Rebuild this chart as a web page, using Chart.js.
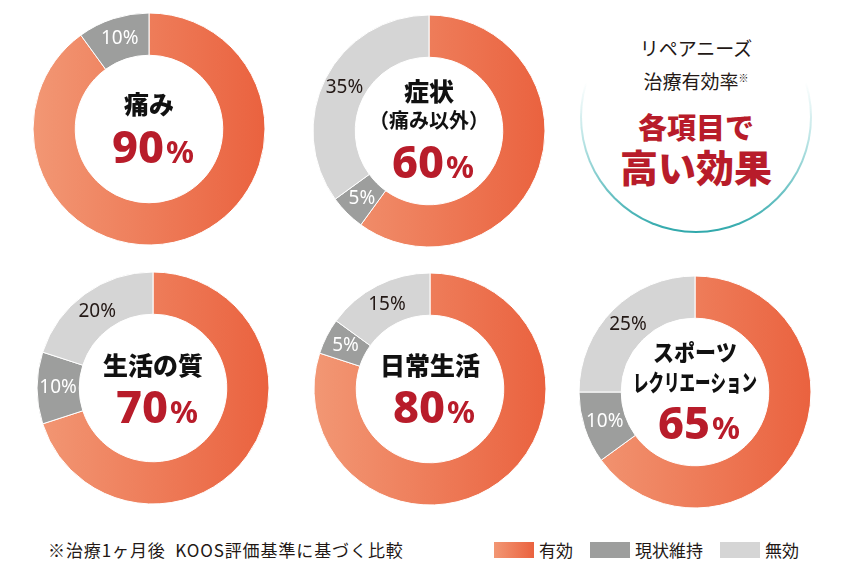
<!DOCTYPE html>
<html><head><meta charset="utf-8">
<script src="https://cdn.jsdelivr.net/npm/chart.js@4.4.0/dist/chart.umd.min.js"></script>
<style>
html,body{margin:0;padding:0;background:#fff;}
#wrap{position:relative;width:848px;height:571px;overflow:hidden;font-family:"Noto Sans CJK JP","Noto Sans",sans-serif;color:#231815;}
canvas.d{position:absolute;}
#badge{position:absolute;left:580px;top:1px;width:232px;height:232px;border-radius:50%;
 background:linear-gradient(to bottom,rgba(60,178,180,0) 35%,rgba(60,178,180,0.35) 60%,#2fa8ab 100%);filter:blur(0.4px);}
#badgeIn{position:absolute;left:2px;top:2px;right:2px;bottom:2px;border-radius:50%;background:#fff;}
.bl{position:absolute;left:580px;width:232px;text-align:center;white-space:nowrap;line-height:1;}
.red{color:#B81C2A;font-weight:900;}
#note{position:absolute;left:48px;top:541px;font-size:17px;line-height:18px;white-space:pre;letter-spacing:0.9px;}
#legend{position:absolute;left:494px;top:541px;display:flex;align-items:center;font-size:17px;line-height:18px;}
#legend .it{display:flex;align-items:center;margin-right:17px;}
#legend .bx{width:40px;height:16px;margin-right:5px;}
</style></head><body>
<div id="wrap">
 <div id="badge"><div id="badgeIn"></div></div>
 <div id="note"></div>
 <div id="legend"></div>
</div>
<script>
// ---- data ----
const seriesNames = ['有効', '現状維持', '無効'];
const chartTitles = [['痛み'], ['症状', '（痛み以外）'], ['生活の質'], ['日常生活'], ['スポーツ', 'レクリエーション']];
const effective   = [90, 60, 70, 80, 65];
const maintained  = [10, 5, 10, 5, 10];
const ineffective = [0, 35, 20, 15, 25];
const footnote = '※治療1ヶ月後  KOOS評価基準に基づく比較';
const badgeTop = ['リペアニーズ', '治療有効率'];
const badgeMark = '※';
const badgeRed = ['各項目で', '高い効果'];

// ---- layout / style ----
const centers = [[149,129],[429,130.5],[152.5,388],[429.5,389],[694.5,392]];
const titleOffsets = [[-25],[-40,-11],[-23],[-24],[-40,-10]];
const titleFonts = [['900 25px'],['900 25px','700 20px'],['900 25px'],['900 25px'],['900 23px','900 23px']];
const titleMaxW = [[null],[null,null],[null],[null],[84,124]];
const valueBase = [34,47,34.5,34,46.5];
const ORANGE_L = '#F29774', ORANGE_R = '#EA623F', GRAY = '#9D9E9D', LIGHT = '#D5D5D5', RED = '#B81C2A';
const CJK = '"Noto Sans CJK JP"';

const wrap = document.getElementById('wrap');

const textPlugin = {
  id: 'doughnutText',
  afterDatasetsDraw(chart, args, o) {
    const ctx = chart.ctx;
    const meta = chart.getDatasetMeta(0);
    const ds = chart.data.datasets[0];
    ctx.save();
    ctx.textAlign = 'center';
    ctx.textBaseline = 'middle';
    let cx = 0, cy = 0;
    meta.data.forEach((arc, i) => {
      const p = arc.getProps(['x','y','startAngle','endAngle','innerRadius','outerRadius'], true);
      cx = p.x; cy = p.y;
      const v = ds.data[i];
      if (i === 0 || !v) return;
      const a = (p.startAngle + p.endAngle) / 2;
      const r = (p.innerRadius + p.outerRadius) / 2;
      ctx.fillStyle = i === 1 ? '#ffffff' : '#231815';
      ctx.font = '400 19px "Noto Sans"';
      ctx.fillText(v + '%', cx + Math.cos(a) * r, cy + Math.sin(a) * r);
    });
    // titles
    ctx.fillStyle = '#111';
    o.titles.forEach((t, k) => {
      ctx.font = o.fonts[k] + ' ' + CJK;
      if (o.maxW[k]) ctx.fillText(t, cx, cy + o.offsets[k], o.maxW[k]);
      else ctx.fillText(t, cx, cy + o.offsets[k]);
    });
    // value
    ctx.textBaseline = 'alphabetic';
    ctx.textAlign = 'left';
    ctx.fillStyle = RED;
    const num = String(ds.data[0]);
    ctx.font = '800 45px "Noto Sans"';
    const wn = ctx.measureText(num).width;
    ctx.font = '700 31px "Noto Sans"';
    const wp = ctx.measureText('%').width;
    const gap = 2;
    const x0 = cx - (wn + gap + wp) / 2 + 4;
    const by = cy + o.valueBase;
    ctx.font = '800 45px "Noto Sans"';
    ctx.fillText(num, x0, by);
    ctx.font = '700 31px "Noto Sans"';
    ctx.fillText('%', x0 + wn + gap, by);
    ctx.restore();
  }
};

effective.forEach((e, i) => {
  const cv = document.createElement('canvas');
  cv.className = 'd';
  cv.width = 240; cv.height = 240;
  cv.style.width = '240px'; cv.style.height = '240px';
  cv.style.left = (centers[i][0] - 120) + 'px';
  cv.style.top = (centers[i][1] - 120) + 'px';
  wrap.appendChild(cv);
  new Chart(cv, {
    type: 'doughnut',
    data: {
      labels: seriesNames,
      datasets: [{
        data: [e, maintained[i], ineffective[i]],
        backgroundColor(c) {
          if (c.dataIndex === 0) {
            const a = c.chart.chartArea;
            if (!a) return ORANGE_L;
            const g = c.chart.ctx.createLinearGradient(a.left + 4, 0, a.right - 4, 0);
            g.addColorStop(0, ORANGE_L);
            g.addColorStop(1, ORANGE_R);
            return g;
          }
          return c.dataIndex === 1 ? GRAY : LIGHT;
        },
        borderColor: '#ffffff',
        borderWidth: 1,
        hoverOffset: 0
      }]
    },
    options: {
      responsive: false,
      animation: false,
      events: [],
      radius: 116,
      cutout: 76,
      layout: { padding: 0 },
      plugins: {
        legend: { display: false },
        tooltip: { enabled: false },
        doughnutText: {
          titles: chartTitles[i],
          offsets: titleOffsets[i],
          fonts: titleFonts[i],
          maxW: titleMaxW[i],
          valueBase: valueBase[i]
        }
      }
    },
    plugins: [textPlugin]
  });
});

// badge text
function addLine(html, cls, top, size) {
  const d = document.createElement('div');
  d.className = 'bl ' + cls;
  d.style.top = top + 'px';
  d.style.fontSize = size + 'px';
  d.innerHTML = html;
  wrap.appendChild(d);
}
addLine(badgeTop[0], '', 38, 19);
addLine(badgeTop[1] + '<span style="font-size:10px;vertical-align:7px;">' + badgeMark + '</span>', '', 71, 19);
addLine(badgeRed[0], 'red', 112, 29);
addLine(badgeRed[1], 'red', 147, 38);

document.getElementById('note').textContent = footnote;
const lg = document.getElementById('legend');
const boxBg = ['linear-gradient(to right,' + ORANGE_L + ',' + ORANGE_R + ')', GRAY, LIGHT];
seriesNames.forEach((n, i) => {
  const it = document.createElement('div');
  it.className = 'it';
  it.innerHTML = '<div class="bx" style="background:' + boxBg[i] + '"></div><span>' + n + '</span>';
  lg.appendChild(it);
});
</script>
</body></html>
